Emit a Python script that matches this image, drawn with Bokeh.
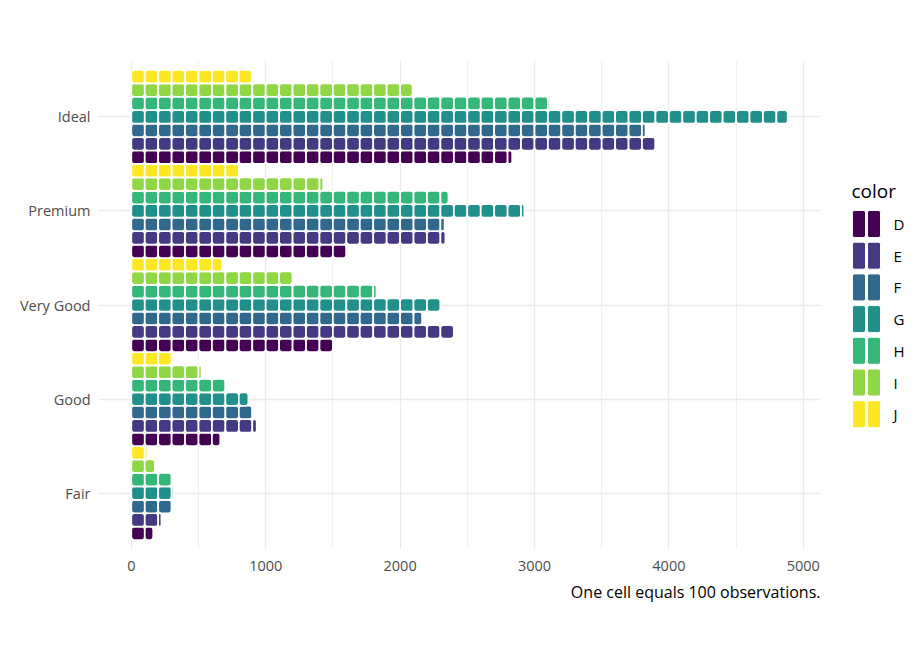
import math

from bokeh.core.properties import value
from bokeh.embed import file_html
from bokeh.layouts import row
from bokeh.models import ColumnDataSource, FixedTicker, Range1d, SingleIntervalTicker, Title
from bokeh.plotting import figure
from bokeh.resources import INLINE

CUTS = ["Fair", "Good", "Very Good", "Premium", "Ideal"]
GRADES = ["D", "E", "F", "G", "H", "I", "J"]
PALETTE = ["#440154", "#443A83", "#31688E", "#21908C", "#35B779", "#8FD744", "#FDE725"]

# counts per cut, ordered D..J
fair = [163, 224, 312, 314, 303, 175, 119]
good = [662, 933, 909, 871, 702, 522, 307]
very_good = [1513, 2400, 2164, 2299, 1824, 1204, 678]
premium = [1603, 2337, 2331, 2924, 2360, 1428, 808]
ideal = [2834, 3903, 3826, 4884, 3115, 2093, 896]

CELL = 100  # observations per cell
FONT = "Open Sans"


def _cells(counts_by_cut):
    rows = {"left": [], "right": [], "top": [], "bottom": [], "color": []}
    n_grades = len(GRADES)
    for i, counts in enumerate(counts_by_cut):
        for j, n in enumerate(counts):
            yc = (i + 1) + (j - (n_grades - 1) / 2) / n_grades
            for k in range(math.ceil(n / CELL)):
                rows["left"].append(k * CELL)
                rows["right"].append(min((k + 1) * CELL, n))
                rows["top"].append(yc + 0.5 / n_grades)
                rows["bottom"].append(yc - 0.5 / n_grades)
                rows["color"].append(PALETTE[j])
    return rows


source = ColumnDataSource(_cells([fair, good, very_good, premium, ideal]))

x_max = max(max(c) for c in [fair, good, very_good, premium, ideal])
pad = x_max * 0.05

p = figure(
    width=828,
    height=644,
    x_range=Range1d(-pad, x_max + pad),
    y_range=Range1d(0.4, len(CUTS) + 0.6),
    toolbar_location=None,
    output_backend="svg",
    min_border_left=98,
    min_border_right=8,
    min_border_top=60,
    min_border_bottom=95,
)
p.outline_line_color = None

p.quad(
    left="left",
    right="right",
    top="top",
    bottom="bottom",
    fill_color="color",
    line_color="white",
    line_width=1.7,
    border_radius=3,
    source=source,
)

p.xaxis.ticker = SingleIntervalTicker(interval=1000, num_minor_ticks=2)
p.yaxis.ticker = FixedTicker(ticks=list(range(1, len(CUTS) + 1)))
p.yaxis.major_label_overrides = {i + 1: c for i, c in enumerate(CUTS)}

for ax in (p.xaxis, p.yaxis):
    ax.axis_line_color = None
    ax.major_tick_line_color = None
    ax.minor_tick_line_color = None
    ax.major_tick_out = 0
    ax.major_label_text_font = FONT
    ax.major_label_text_font_size = "14.5px"
    ax.major_label_text_color = "#4D4D4D"
p.xaxis.major_label_standoff = 7
p.yaxis.major_label_standoff = 8

p.xgrid.grid_line_color = "#EBEBEB"
p.xgrid.grid_line_width = 1.3
p.xgrid.minor_grid_line_color = "#EBEBEB"
p.xgrid.minor_grid_line_width = 0.7
p.ygrid.grid_line_color = "#EBEBEB"
p.ygrid.grid_line_width = 1.3

caption = Title(
    text="One cell equals 100 observations.",
    align="right",
    text_font=FONT,
    text_font_size="16px",
    text_font_style="normal",
    text_color="black",
)
p.add_layout(caption, "below")

# legend drawn in its own small canvas; the row aligns its frame with the
# main frame (page y 60..549), so the y range is given in page pixels, y down
lg = figure(
    width=88,
    height=644,
    x_range=Range1d(0, 88),
    y_range=Range1d(549, 60),
    x_axis_type=None,
    y_axis_type=None,
    toolbar_location=None,
    output_backend="svg",
    min_border=0,
)
lg.outline_line_color = None
lg.grid.visible = False

key_top, key_step, key_h, tile_w = 210, 31.7, 27, 13
keys = {"left": [], "right": [], "top": [], "bottom": [], "color": []}
for j, col in enumerate(PALETTE):
    for t in range(2):
        keys["left"].append(24 + t * (tile_w + 2))
        keys["right"].append(24 + t * (tile_w + 2) + tile_w)
        keys["top"].append(key_top + j * key_step)
        keys["bottom"].append(key_top + j * key_step + key_h)
        keys["color"].append(col)
lg.quad(
    left="left", right="right", top="top", bottom="bottom",
    fill_color="color", line_color="white", line_width=1, border_radius=2,
    source=ColumnDataSource(keys),
)
lg.text(
    x=[65] * len(GRADES),
    y=[key_top + key_h / 2 + j * key_step for j in range(len(GRADES))],
    text=GRADES,
    text_font=value(FONT),
    text_font_size="15px",
    text_color="black",
    text_baseline="middle",
)
lg.text(
    x=[23], y=[190], text=["color"],
    text_font=value(FONT), text_font_size="19px",
    text_color="black", text_baseline="middle",
)

layout = row(p, lg)
open("out.html", "w").write(file_html(layout, INLINE))
